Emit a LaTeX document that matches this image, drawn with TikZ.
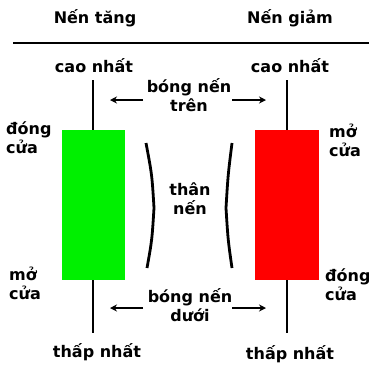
\documentclass[tikz,border=0pt]{standalone}
\usepackage{fontspec}
\setmainfont{DejaVu Sans}
\usetikzlibrary{arrows.meta}
\begin{document}
\begin{tikzpicture}[x=1pt,y=-1pt,
  lbl/.style={font=\bfseries\fontsize{16}{19}\selectfont, inner sep=0pt, align=center},
  lbll/.style={lbl, align=left, anchor=west},
  wick/.style={line width=2.5pt},
  arr/.style={line width=1.6pt, -{Stealth[length=7pt,width=7pt]}},
  brk/.style={line width=2.8pt}]
\useasboundingbox (0,0) rectangle (369,365);
\node[lbl] (t1) at (95,18) {Nến tăng};
\node[lbl] (t2) at (290,18) {Nến giảm};
\coordinate (hl) at (13,43);
\coordinate (hr) at (369,43);
\draw[line width=2pt] (hl) -- (hr);
% green candle
\node[lbl] (h1) at (94,66) {cao nhất};
\fill[fill={rgb,255:red,0;green,240;blue,0}] (62,130) rectangle (125,280);
\coordinate (gw1) at (93,80);
\coordinate (gw2) at (93,130);
\coordinate (gw3) at (93,280);
\coordinate (gw4) at (93,333);
\draw[wick] (gw1) -- (gw2);
\draw[wick] (gw3) -- (gw4);
\node[lbl] (l1) at (97,352) {thấp nhất};
\node[lbll] (c1) at (6,138) {đóng\\cửa};
\node[lbll] (o1) at (9,283) {mở\\cửa};
% red candle
\node[lbl] (h2) at (290,66) {cao nhất};
\fill[red] (255,130) rectangle (319,280);
\coordinate (rw1) at (287,80);
\coordinate (rw2) at (287,130);
\coordinate (rw3) at (287,280);
\coordinate (rw4) at (287,333);
\draw[wick] (rw1) -- (rw2);
\draw[wick] (rw3) -- (rw4);
\node[lbl] (l2) at (290,354) {thấp nhất};
\node[lbll] (o2) at (329,140) {mở\\cửa};
\node[lbll] (c2) at (325,285) {đóng\\cửa};
% middle labels
\node[lbl] (up) at (189,95) {bóng nến\\trên};
\node[lbl] (body) at (190,199) {thân\\nến};
\node[lbl] (dn) at (190,305) {bóng nến\\dưới};
\coordinate (ua) at (143,100);
\coordinate (ub) at (110,100);
\coordinate (uc) at (232,100);
\coordinate (ud) at (266,100);
\coordinate (da) at (143,308);
\coordinate (db) at (110,308);
\coordinate (dc) at (232,308);
\coordinate (dd) at (266,308);
\draw[arr] (ua) -- (ub);
\draw[arr] (uc) -- (ud);
\draw[arr] (da) -- (db);
\draw[arr] (dc) -- (dd);
% brackets
\coordinate (b1) at (146,143);
\coordinate (b2) at (154,208);
\coordinate (b3) at (147,268);
\draw[brk] (b1) .. controls (152,175) .. (b2) .. controls (152,240) .. (b3);
\coordinate (b4) at (232,143);
\coordinate (b5) at (226,208);
\coordinate (b6) at (232,268);
\draw[brk] (b4) .. controls (228,175) .. (b5) .. controls (228,240) .. (b6);
\end{tikzpicture}
\end{document}
